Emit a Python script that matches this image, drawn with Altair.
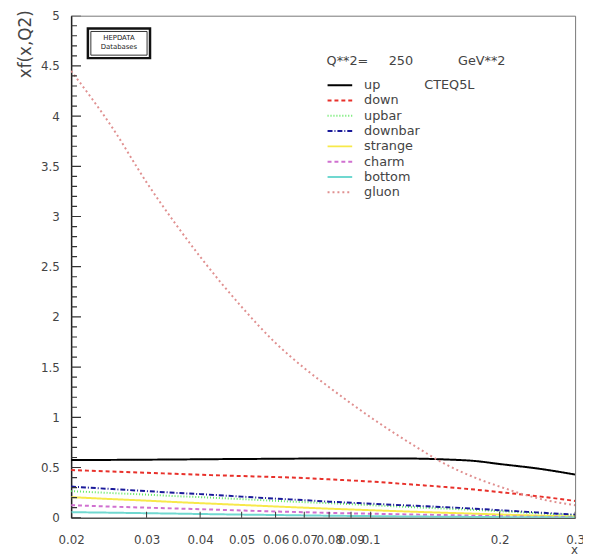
import altair as alt
import pandas as pd

# ---- data ----
x_values = [0.02, 0.025, 0.03, 0.035, 0.04, 0.05, 0.06, 0.07, 0.08, 0.1,
            0.125, 0.15, 0.175, 0.2, 0.25, 0.3]
up = [0.575, 0.576, 0.578, 0.580, 0.582, 0.585, 0.587, 0.589, 0.590, 0.590,
      0.589, 0.580, 0.565, 0.535, 0.485, 0.430]
down = [0.475, 0.460, 0.448, 0.437, 0.428, 0.415, 0.405, 0.395, 0.382, 0.360,
        0.330, 0.305, 0.280, 0.255, 0.210, 0.167]
upbar = [0.265, 0.245, 0.230, 0.215, 0.205, 0.185, 0.168, 0.155, 0.145, 0.125,
         0.105, 0.090, 0.078, 0.065, 0.042, 0.025]
downbar = [0.310, 0.285, 0.265, 0.248, 0.235, 0.210, 0.190, 0.175, 0.160, 0.140,
           0.120, 0.105, 0.090, 0.075, 0.050, 0.030]
strange = [0.205, 0.185, 0.170, 0.156, 0.145, 0.127, 0.112, 0.100, 0.090, 0.075,
           0.060, 0.049, 0.040, 0.032, 0.020, 0.012]
charm = [0.125, 0.110, 0.100, 0.092, 0.085, 0.072, 0.062, 0.055, 0.048, 0.040,
         0.032, 0.026, 0.020, 0.015, 0.009, 0.005]
bottom = [0.055, 0.050, 0.045, 0.041, 0.037, 0.031, 0.027, 0.023, 0.020, 0.016,
          0.012, 0.010, 0.008, 0.006, 0.004, 0.002]
gluon = [4.45, 3.88, 3.34, 2.93, 2.60, 2.10, 1.74, 1.49, 1.30, 1.00,
         0.73, 0.53, 0.40, 0.31, 0.185, 0.125]

series_names = ["up", "down", "upbar", "downbar", "strange", "charm", "bottom", "gluon"]
series_values = [up, down, upbar, downbar, strange, charm, bottom, gluon]
series_colors = ["#000000", "#e8302a", "#5fe85f", "#1a1a9a", "#f7e94a", "#d070d0", "#70d8d0", "#e09090"]
series_dashes = [[1, 0], [4, 3], [1, 2], [5, 2, 1, 2], [1, 0], [4, 3], [1, 0], [2, 3]]
series_widths = [2.0, 2.0, 1.3, 2.0, 1.3, 1.3, 1.3, 1.3]

x_ticks = [0.02, 0.03, 0.04, 0.05, 0.06, 0.07, 0.08, 0.09, 0.1, 0.2, 0.3]
y_major = [0, 0.5, 1, 1.5, 2, 2.5, 3, 3.5, 4, 4.5, 5]
y_minor = [round(i * 0.1, 1) for i in range(51) if i % 5 != 0]

NB = "\u00a0"
legend_title = "Q**2=" + NB * 5 + "250" + NB * 11 + "GeV**2"

rows = []
for name, vals in zip(series_names, series_values):
    for xv, yv in zip(x_values, vals):
        rows.append({"x": xv, "v": yv, "series": name})
df = pd.DataFrame(rows)

W, H = 511, 509
FONT = "DejaVu Sans"
TXT = "#444444"

xscale = alt.Scale(type="log", domain=[0.02, 0.3], nice=False)
yscale = alt.Scale(domain=[0, 5], nice=False)

leg = alt.Legend(
    title=legend_title, orient="none", legendX=259, legendY=40,
    symbolType="M-2,0H2", symbolSize=156, symbolStrokeWidth=2, symbolOffset=6,
    labelFontSize=13, titleFontSize=13, titleFontWeight="normal", titleLimit=400,
    labelFont=FONT, titleFont=FONT, labelColor=TXT, titleColor=TXT,
    labelOffset=17, titlePadding=10, rowPadding=0.5, padding=0,
)

lines = alt.Chart(df).mark_line(interpolate="monotone", clip=True).encode(
    x=alt.X("x:Q", scale=xscale, axis=alt.Axis(
        values=x_ticks, format="~g", tickSize=0, labelPadding=17, labelFlush=False,
        labelOverlap=False, grid=False, title="x", titleX=510, titleY=32,
        titleAnchor="start", titleAlign="center", titleBaseline="middle",
        titleFontSize=12, titleFontWeight="normal", domainColor="#333333")),
    y=alt.Y("v:Q", scale=yscale, axis=alt.Axis(
        values=y_major, format="~g", tickSize=0, labelPadding=12, grid=False,
        title="xf(x,Q2)", titleAngle=-90, titleX=-41, titleY=-6,
        titleAlign="right", titleBaseline="alphabetic", titleAnchor="start",
        titleFontSize=17, titleFontWeight="normal",
        domainColor="#222222", domainWidth=1.5)),
    color=alt.Color("series:N", scale=alt.Scale(domain=series_names, range=series_colors),
                    sort=series_names, legend=leg),
    strokeDash=alt.StrokeDash("series:N", scale=alt.Scale(domain=series_names, range=series_dashes),
                              sort=series_names, legend=leg),
    strokeWidth=alt.StrokeWidth("series:N", scale=alt.Scale(domain=series_names, range=series_widths),
                                sort=series_names, legend=leg),
)

ymaj_df = pd.DataFrame({"t": y_major})
ymin_df = pd.DataFrame({"t": y_minor})
xt_df = pd.DataFrame({"t": x_ticks})

# inward ticks: centred on the axis line, the outer half clipped away
ymaj = alt.Chart(ymaj_df).mark_tick(color="#333333", thickness=1.2, size=20, orient="horizontal",
                                    clip=True, opacity=1).encode(
    y=alt.Y("t:Q", scale=yscale), x=alt.value(0))
ymin = alt.Chart(ymin_df).mark_tick(color="#333333", thickness=1.2, size=12, orient="horizontal",
                                    clip=True, opacity=1).encode(
    y=alt.Y("t:Q", scale=yscale), x=alt.value(0))
xtk = alt.Chart(xt_df).mark_tick(color="#333333", thickness=1, size=12, orient="vertical",
                                 clip=True, opacity=1).encode(
    x=alt.X("t:Q", scale=xscale), y=alt.value(H))

one = pd.DataFrame({"a": [0]})
box_outer = alt.Chart(one).mark_rect(fill="white", stroke="#111111", strokeWidth=2.5).encode(
    x=alt.value(17), x2=alt.value(80), y=alt.value(13), y2=alt.value(43))
box_inner = alt.Chart(one).mark_rect(fill="white", stroke="#333333", strokeWidth=1).encode(
    x=alt.value(20), x2=alt.value(77), y=alt.value(16), y2=alt.value(40))
logo1 = alt.Chart(one).mark_text(text="HEPDATA", fontSize=7, font=FONT, color="#222222").encode(
    x=alt.value(48.5), y=alt.value(23))
logo2 = alt.Chart(one).mark_text(text="Databases", fontSize=7, font=FONT, color="#222222").encode(
    x=alt.value(48.5), y=alt.value(32))
cteq = alt.Chart(one).mark_text(text="CTEQ5L", fontSize=13, font=FONT, color=TXT, align="left").encode(
    x=alt.value(358), y=alt.value(70))

chart = alt.layer(lines, ymaj, ymin, xtk, box_outer, box_inner, logo1, logo2, cteq).properties(
    width=W, height=H,
    autosize=alt.AutoSizeParams(type="none"),
    padding={"left": 64, "top": 4, "right": 8, "bottom": 34},
    background="white",
).configure_view(stroke="#777777", strokeWidth=1).configure_axis(
    labelFont=FONT, titleFont=FONT, labelFontSize=12, labelColor=TXT, titleColor=TXT,
)

chart.save("out.html", embed_options={"renderer": "svg", "actions": False})
